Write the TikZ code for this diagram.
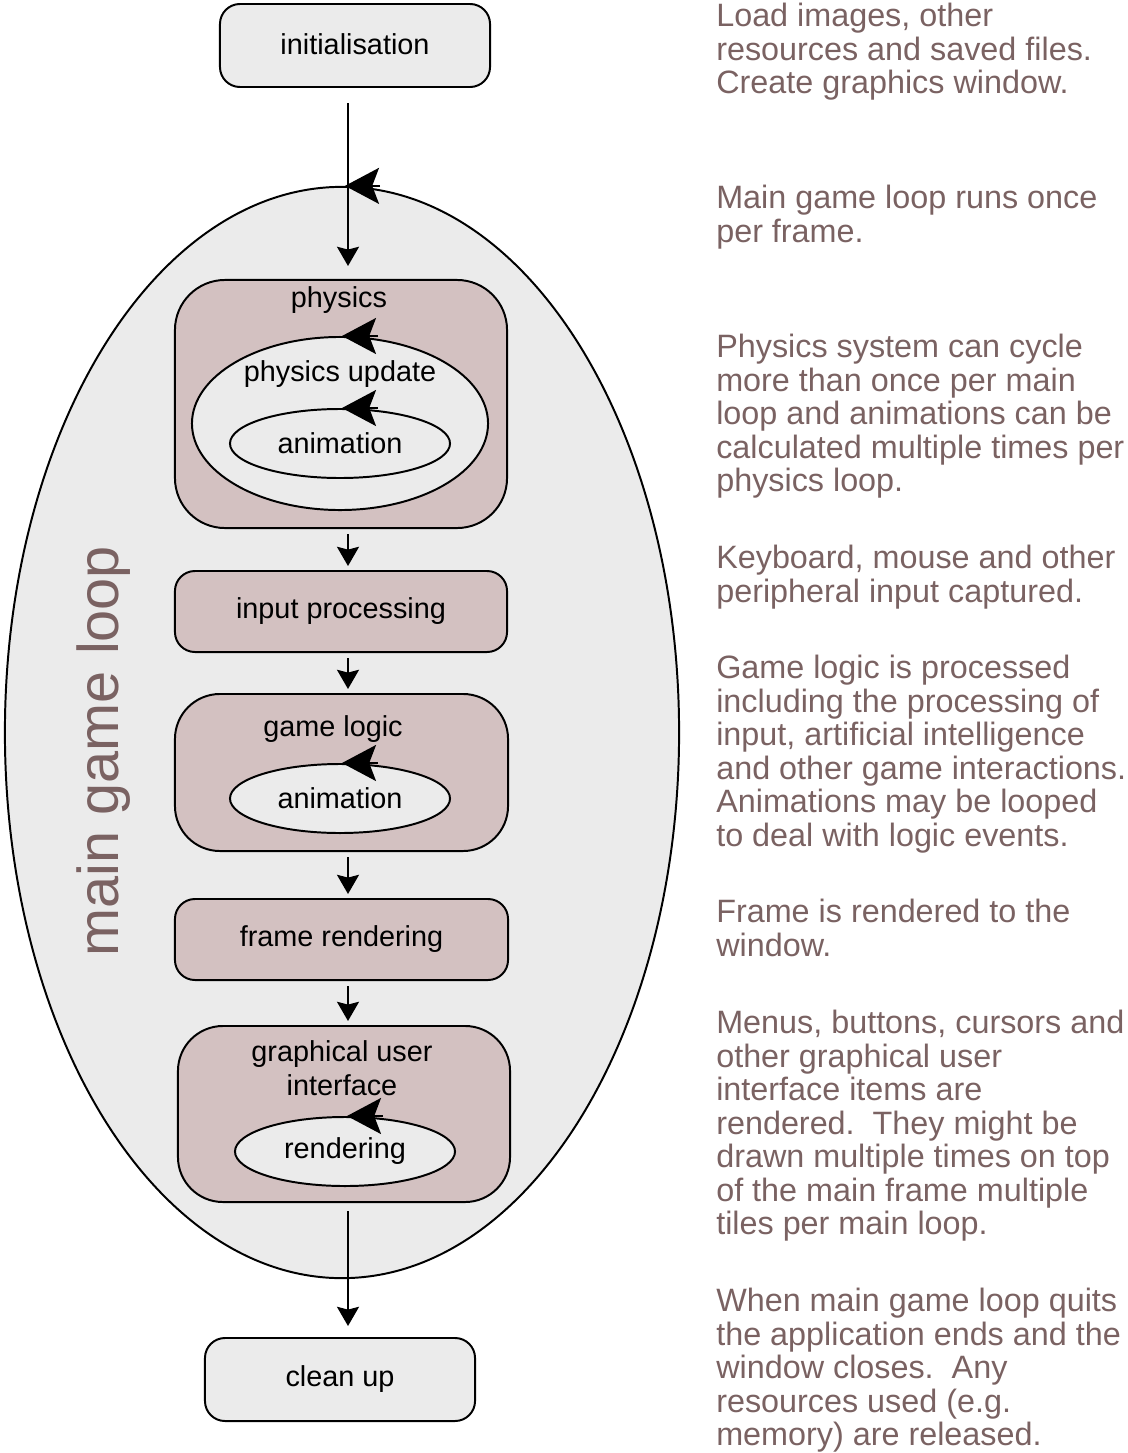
\documentclass[tikz,border=0pt]{standalone}
\usepackage{fontspec}
\setmainfont{Liberation Sans}
\usepackage{xcolor}
\usetikzlibrary{arrows.meta,positioning,shapes.geometric}

\definecolor{boxgray}{HTML}{EBEBEB}
\definecolor{boxpink}{HTML}{D3C1C1}
\definecolor{notebrown}{HTML}{7A6262}

\begin{document}
\begin{tikzpicture}[
    x=0.025cm, y=-0.025cm,
    mybox/.style={
    draw=black,
    line width=1.4pt,
    rounded corners=0.5cm,
    minimum width=6.75cm,
    minimum height=2.075cm,
    inner sep=0pt,
    font=\fontsize{20.5}{24.2}\selectfont},
    greybox/.style={mybox, fill=boxgray},
    pinkbox/.style={mybox, fill=boxpink, minimum width=8.3cm},
    myellipse/.style={
    ellipse,
    draw=black,
    line width=1.4pt,
    fill=boxgray,
    inner sep=0pt,
    minimum width=5.5cm,
    minimum height=1.725cm,
    font=\fontsize{20.5}{24.2}\selectfont},
    mylabel/.style={inner sep=0pt, align=center, font=\fontsize{20.5}{24.2}\selectfont},
    myarrow/.style={line width=1.4pt, -{Stealth[length=0.48cm,width=0.55cm,inset=0.07cm]},
    shorten <=0.125cm, shorten >=0.1cm},
    myloop/.style={line width=1.4pt, -{Stealth[length=0.85cm,width=0.9cm,inset=0.17cm]}},
    mynote/.style={anchor=north west, align=left, inner sep=0pt, text=notebrown,
    font=\fontsize{23}{23.8}\selectfont}
    ]
    \useasboundingbox (0,0) rectangle (1127,1453);
    \coordinate (spine) at (348,0);

    % outer loop
    \node[myellipse, minimum width=16.85cm, minimum height=27.275cm] (loop) at (342,732.5) {};
    \node[rotate=90, inner sep=0pt, text=notebrown, font=\fontsize{41}{45}\selectfont]
        (looptext) at (104,751) {main game loop};

    \node[greybox] (init) at (355,45.5) {\raisebox{2pt}{initialisation}};
    \node[greybox] (clean) at (340,1379.5) {clean up};

    % physics
    \node[pinkbox, minimum height=6.2cm, rounded corners=1.25cm] (phys) at (341,404) {};
    \node[mylabel] (physlabel) at (339,300) {physics};
    \node[myellipse, minimum width=7.4cm, minimum height=4.325cm] (upd) at (340,423.5) {};
    \node[mylabel] (updlabel) at (340,374) {physics update};
    \node[myellipse] (anim1) at (340,443.5) {animation};

    \node[pinkbox, minimum height=2.025cm] (input) at (341,611.5) {input processing};

    % game logic
    \node[pinkbox, minimum width=8.325cm, minimum height=3.925cm, rounded corners=1.125cm] (logic) at (341.5,772.5) {};
    \node[mylabel] (logiclabel) at (333,729) {game logic};
    \node[myellipse] (anim2) at (340,798.5) {animation};

    \node[pinkbox, minimum width=8.325cm, minimum height=2.025cm] (frame) at (341.5,939.5) {frame rendering};

    % gui
    \node[pinkbox, minimum height=4.4cm, rounded corners=1.125cm] (gui) at (344,1114) {};
    \node[mylabel] (guilabel) at (342,1068) {graphical user\\interface};
    \node[myellipse] (rend) at (345,1151.5) {rendering};

    % flow
    \draw[myarrow, shorten <=0.375cm, shorten >=0.325cm] (init.south -| spine) -- (phys.north -| spine);
    \draw[myarrow] (phys.south -| spine) -- (input.north -| spine);
    \draw[myarrow] (input.south -| spine) -- (logic.north -| spine);
    \draw[myarrow] (logic.south -| spine) -- (frame.north -| spine);
    \draw[myarrow] (frame.south -| spine) -- (gui.north -| spine);
    \draw[myarrow, shorten <=0.2cm, shorten >=0.275cm] (gui.south -| spine) -- (clean.north -| spine);

    % loop heads
    \draw[myloop] ([xshift=0.95cm]loop.north) -- ([xshift=0.075cm]loop.north);
    \draw[myloop] ([xshift=0.95cm]upd.north) -- ([xshift=0.05cm]upd.north);
    \draw[myloop] ([xshift=0.95cm]anim1.north) -- ([xshift=0.05cm]anim1.north);
    \draw[myloop] ([xshift=0.95cm]anim2.north) -- ([xshift=0.05cm]anim2.north);
    \draw[myloop] ([xshift=0.95cm]rend.north) -- ([xshift=0.05cm]rend.north);

    % notes
    \node[mynote] (n1) at (716,3) {Load images, other\\resources and saved files.\\Create graphics window.};
    \node[mynote] (n2) at (716,185) {Main game loop runs once\\per frame.};
    \node[mynote] (n3) at (716,334) {Physics system can cycle\\more than once per main\\loop and animations can be\\calculated multiple times per\\physics loop.};
    \node[mynote] (n4) at (716,545) {Keyboard, mouse and other\\peripheral input captured.};
    \node[mynote] (n5) at (716,655) {Game logic is processed\\including the processing of\\input, artificial intelligence\\and other game interactions.\\Animations may be looped\\to deal with logic events.};
    \node[mynote] (n6) at (716,899) {Frame is rendered to the\\window.};
    \node[mynote] (n7) at (716,1010) {Menus, buttons, cursors and\\other graphical user\\interface items are\\rendered.\ \ They might be\\drawn multiple times on top\\of the main frame multiple\\tiles per main loop.};
    \node[mynote] (n8) at (716,1288) {When main game loop quits\\the application ends and the\\window closes.\ \ Any\\resources used (e.g.\\memory) are released.};
\end{tikzpicture}
\end{document}
